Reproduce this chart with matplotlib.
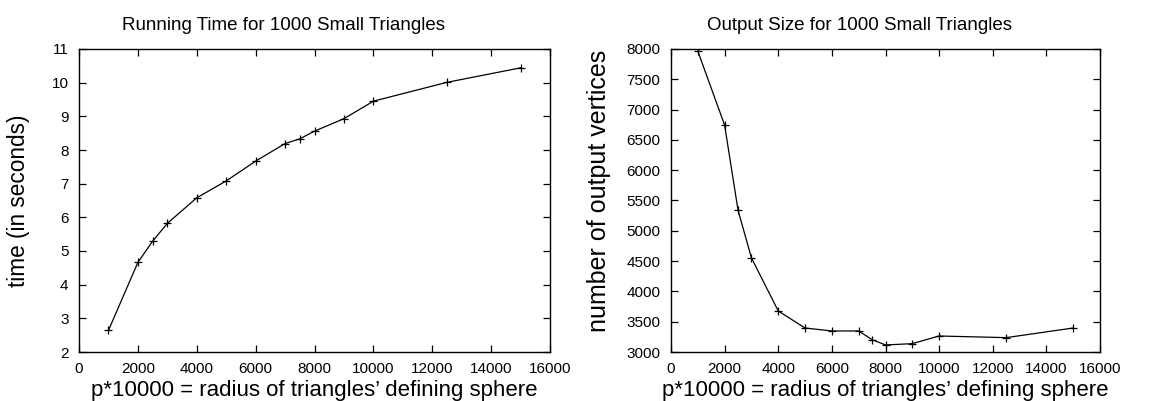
import matplotlib
matplotlib.use("Agg")
import matplotlib.pyplot as plt

plt.rcParams['font.family'] = ['Liberation Sans', 'DejaVu Sans']

radius = [1000, 2000, 2500, 3000, 4000, 5000, 6000, 7000, 7500, 8000, 9000, 10000, 12500, 15000]
run_time = [2.64, 4.66, 5.29, 5.82, 6.58, 7.08, 7.67, 8.19, 8.33, 8.56, 8.93, 9.45, 10.01, 10.44]
out_vertices = [7965, 6744, 5340, 4553, 3677, 3396, 3347, 3347, 3204, 3116, 3138, 3264, 3237, 3396]

fig = plt.figure(figsize=(11.52, 4.01), dpi=100)
ax1 = fig.add_axes([79 / 1152, 49 / 401, 471 / 1152, 303 / 401])
ax2 = fig.add_axes([671 / 1152, 49 / 401, 429 / 1152, 303 / 401])

xlab = "p*10000 = radius of triangles\u2019 defining sphere"

panels = [
    (ax1, run_time, "Running Time for 1000 Small Triangles", 0.435,
     "time (in seconds)", 16.3, 15.5, 0.5, (2, 11), range(2, 12)),
    (ax2, out_vertices, "Output Size for 1000 Small Triangles", 0.44,
     "number of output vertices", 18, 11.5, 0.533, (3000, 8000), range(3000, 8001, 500)),
]

for ax, y, title, tx, ylab, ysize, ypad, ly, ylim, yticks in panels:
    ax.plot(radius, y, color='black', lw=0.9, marker='+', ms=5.5, mew=0.9)
    ax.set_xlim(0, 16000)
    ax.set_ylim(*ylim)
    ax.set_xticks(range(0, 16001, 2000))
    ax.set_yticks(list(yticks))
    ax.tick_params(direction='in', top=True, right=True, length=5, width=0.9,
                   labelsize=11)
    ax.tick_params(axis='y', pad=7.5)
    ax.tick_params(axis='x', pad=7)
    for s in ax.spines.values():
        s.set_linewidth(1.0)
    ax.set_title(title, fontsize=13.5, x=tx, pad=14)
    ax.set_xlabel(xlab, fontsize=16, labelpad=3)
    ax.set_ylabel(ylab, fontsize=ysize, labelpad=ypad)
    ax.yaxis.label.set_y(ly)

fig.savefig("out.png", dpi=100)
